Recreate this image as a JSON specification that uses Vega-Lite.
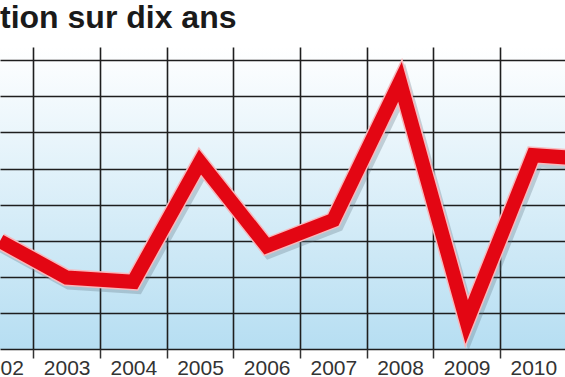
{
  "$schema": "https://vega.github.io/schema/vega-lite/v6.json",
  "width": 565,
  "height": 302,
  "autosize": {"type": "none"},
  "padding": {"left": 0, "top": 47, "right": 0, "bottom": 28},
  "background": "white",
  "title": {
    "text": "tion sur dix ans",
    "anchor": "start",
    "frame": "group",
    "font": "Liberation Sans",
    "fontWeight": "bold",
    "fontSize": 32,
    "color": "#1a1a1a",
    "offset": 12
  },
  "config": {
    "view": {
      "stroke": null,
      "fill": {
        "gradient": "linear",
        "x1": 0, "y1": 0, "x2": 0, "y2": 1,
        "stops": [
          {"offset": 0, "color": "#ffffff"},
          {"offset": 1, "color": "#b6def2"}
        ]
      }
    }
  },
  "data": {
    "values": [
      {"year": 2002, "value": 2.99},
      {"year": 2003, "value": 1.98},
      {"year": 2004, "value": 1.86},
      {"year": 2005, "value": 5.18},
      {"year": 2006, "value": 2.85},
      {"year": 2007, "value": 3.57},
      {"year": 2008, "value": 7.40},
      {"year": 2009, "value": 0.75},
      {"year": 2010, "value": 5.37},
      {"year": 2011, "value": 5.24}
    ]
  },
  "layer": [
    {
      "mark": {"type": "line", "clip": true, "color": "#5f7382", "opacity": 0.3, "strokeWidth": 16, "xOffset": 3, "yOffset": 4, "strokeJoin": "miter", "strokeMiterLimit": 20},
      "encoding": {
        "x": {
          "field": "year", "type": "quantitative",
          "scale": {"domain": [2002, 2010.475], "nice": false, "zero": false},
          "axis": {
            "orient": "bottom",
            "values": [2002.5, 2003.5, 2004.5, 2005.5, 2006.5, 2007.5, 2008.5, 2009.5],
            "tickCount": 20,
            "grid": true, "gridColor": "#1e1e1e", "gridWidth": 1.6, "gridOpacity": 1,
            "ticks": true, "tickSize": 9, "tickColor": "#333333", "tickWidth": 1.5,
            "labels": false, "domain": false, "title": null
          }
        },
        "y": {
          "field": "value", "type": "quantitative",
          "scale": {"domain": [0, 8.366], "nice": false, "zero": false},
          "axis": {
            "values": [0, 1, 2, 3, 4, 5, 6, 7, 8],
            "tickCount": 20,
            "grid": true, "gridColor": "#1e1e1e", "gridWidth": 1.6, "gridOpacity": 1,
            "ticks": false, "labels": false, "domain": false, "title": null
          }
        }
      }
    },
    {
      "mark": {"type": "line", "clip": true, "color": "#f7b9bd", "strokeWidth": 17, "strokeJoin": "miter", "strokeMiterLimit": 20},
      "encoding": {
        "x": {
          "field": "year", "type": "quantitative",
          "axis": {
            "orient": "bottom",
            "values": [2002, 2003, 2004, 2005, 2006, 2007, 2008, 2009, 2010],
            "tickCount": 20,
            "format": "d",
            "grid": false, "ticks": false, "tickSize": 0, "domain": false, "title": null,
            "labelFont": "Liberation Sans",
            "labelFontSize": 21, "labelColor": "#333333",
            "labelBaseline": "alphabetic", "labelPadding": 25,
            "labelFlush": false, "labelOverlap": false, "labelBound": false
          }
        },
        "y": {"field": "value", "type": "quantitative"}
      }
    },
    {
      "mark": {"type": "line", "clip": true, "color": "#e30613", "strokeWidth": 14, "strokeJoin": "miter", "strokeMiterLimit": 20},
      "encoding": {
        "x": {"field": "year", "type": "quantitative", "axis": null},
        "y": {"field": "value", "type": "quantitative"}
      }
    }
  ],
  "resolve": {"axis": {"x": "independent"}}
}
